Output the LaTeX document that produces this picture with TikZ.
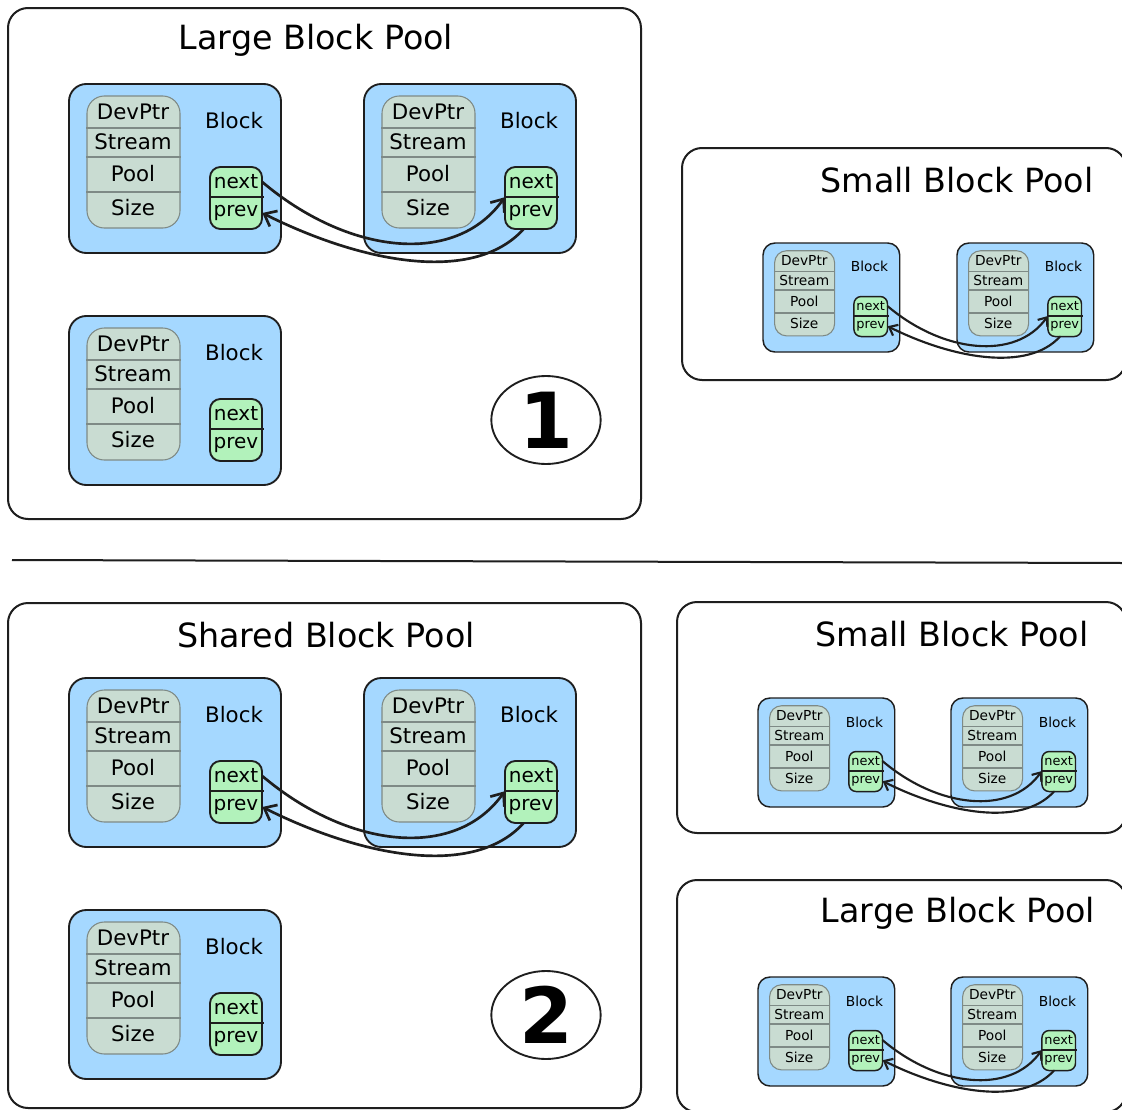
\documentclass[tikz,border=0pt]{standalone}
\usepackage{fontspec}
\setmainfont{DejaVu Sans}
\usetikzlibrary{arrows.meta,calc,shapes.geometric}

\definecolor{blockblue}{HTML}{A5D8FF}
\definecolor{fieldgray}{HTML}{C9DCD2}
\definecolor{fieldline}{HTML}{7E8A86}
\definecolor{linkgreen}{HTML}{B2F2BB}
\definecolor{ink}{HTML}{1E1E1E}

\tikzset{
  x=0.75pt, y=-0.75pt,
  poolframe/.style={draw=ink, line width=1.5pt, rounded corners=15pt},
  pooltitle/.style={inner sep=0pt, font=\fontsize{25}{30}\selectfont},
  numcirc/.style={draw=ink, line width=1.4pt, ellipse, minimum width=82pt, minimum height=66pt, inner sep=0pt,
                  font=\fontsize{58}{60}\selectfont\bfseries},
  blkr/.store in=\blkr, blkr=13pt,
  blklw/.store in=\blklw, blklw=1.4pt,
  fieldtxt/.style={inner sep=0pt, transform shape, font=\fontsize{16}{18}\selectfont},
  linktxt/.style={inner sep=0pt, transform shape, font=\fontsize{15}{17}\selectfont, minimum width=39pt},
  link/.style={draw=ink, line width=2pt, line cap=round, -{Straight Barb[length=8pt,width=13pt]}},
  smalllink/.style={draw=ink, line width=1.6pt, line cap=round, -{Straight Barb[length=5.5pt,width=9pt]}},
  blk/.pic={
    % block body
    \filldraw[fill=blockblue, draw=ink, line width=\blklw, rounded corners=\blkr] (0,0) rectangle (212,169);
    % field table
    \filldraw[fill=fieldgray, draw=fieldline, line width=0.8pt, rounded corners=\blkr] (18,12) rectangle (111,144);
    \draw[fieldline, line width=1.3pt] (17,44) -- (112,44) (17,73) -- (112,73) (17,108) -- (112,108);
    \node[fieldtxt] at (64,28) {DevPtr};
    \node[fieldtxt] at (64,58) {Stream};
    \node[fieldtxt] at (64,90) {Pool};
    \node[fieldtxt] at (64,124) {Size};
    \node[fieldtxt] at (165,37) {Block};
    % next / prev links
    \filldraw[fill=linkgreen, draw=ink, line width=\blklw, rounded corners=0.6*\blkr] (141,83) rectangle (193,145);
    \draw[ink, line width=\blklw] (141,113) -- (195,113);
    \node[linktxt, minimum height=22.5pt] (-next) at (167,98) {next};
    \node[linktxt, minimum height=24pt] (-prev) at (167,129) {prev};
  }
}

% forward link between the next fields and backward link between the prev fields
\newcommand\blocklinks[4]{%
  \draw[#4] (#1-next.east) .. controls +({85*#3},{72*#3}) and +({-50*#3},{70*#3}) .. (#2-next.south west);
  \draw[#4] (#2-prev.-115) .. controls +({-50*#3},{55*#3}) and +({100*#3},{50*#3}) .. (#1-prev.east);
}

\begin{document}
\begin{tikzpicture}
\useasboundingbox (0,0) rectangle (1122,1110);
\fill[white] (0,0) rectangle (1122,1110);

% ---------- upper half ----------
\draw[poolframe] (8,8) rectangle (641,519);
\node[pooltitle] (t1) at (316,40) {Large Block Pool};
\pic (a1) at (69,84) {blk};
\pic (a2) at (364,84) {blk};
\pic (a3) at (69,316) {blk};
\blocklinks{a1}{a2}{1}{link}
\node[numcirc] (n1) at (546,420) {1};

\draw[poolframe] (682,148) rectangle (1126,380);
\node[pooltitle] (t2) at (957,180) {Small Block Pool};
\pic[scale=0.645, blkr=9pt, blklw=1.1pt] (s1) at (763,243) {blk};
\pic[scale=0.645, blkr=9pt, blklw=1.1pt] (s2) at (957,243) {blk};
\blocklinks{s1}{s2}{0.645}{smalllink}

% divider
\draw[ink, line width=1.5pt] (12,560) -- (1122,563);

% ---------- lower half ----------
\draw[poolframe] (8,603) rectangle (641,1108);
\node[pooltitle] (t3) at (326,635) {Shared Block Pool};
\pic (b1) at (69,678) {blk};
\pic (b2) at (364,678) {blk};
\pic (b3) at (69,910) {blk};
\blocklinks{b1}{b2}{1}{link}
\node[numcirc] (n2) at (546,1015) {2};

\draw[poolframe] (677,602) rectangle (1126,833);
\node[pooltitle] (t4) at (952,634) {Small Block Pool};
\pic[scale=0.645, blkr=9pt, blklw=1.1pt] (c1) at (758,698) {blk};
\pic[scale=0.645, blkr=9pt, blklw=1.1pt] (c2) at (951,698) {blk};
\blocklinks{c1}{c2}{0.645}{smalllink}

\draw[poolframe] (677,880) rectangle (1126,1112);
\node[pooltitle] (t5) at (958,913) {Large Block Pool};
\pic[scale=0.645, blkr=9pt, blklw=1.1pt] (d1) at (758,977) {blk};
\pic[scale=0.645, blkr=9pt, blklw=1.1pt] (d2) at (951,977) {blk};
\blocklinks{d1}{d2}{0.645}{smalllink}
\end{tikzpicture}
\end{document}
